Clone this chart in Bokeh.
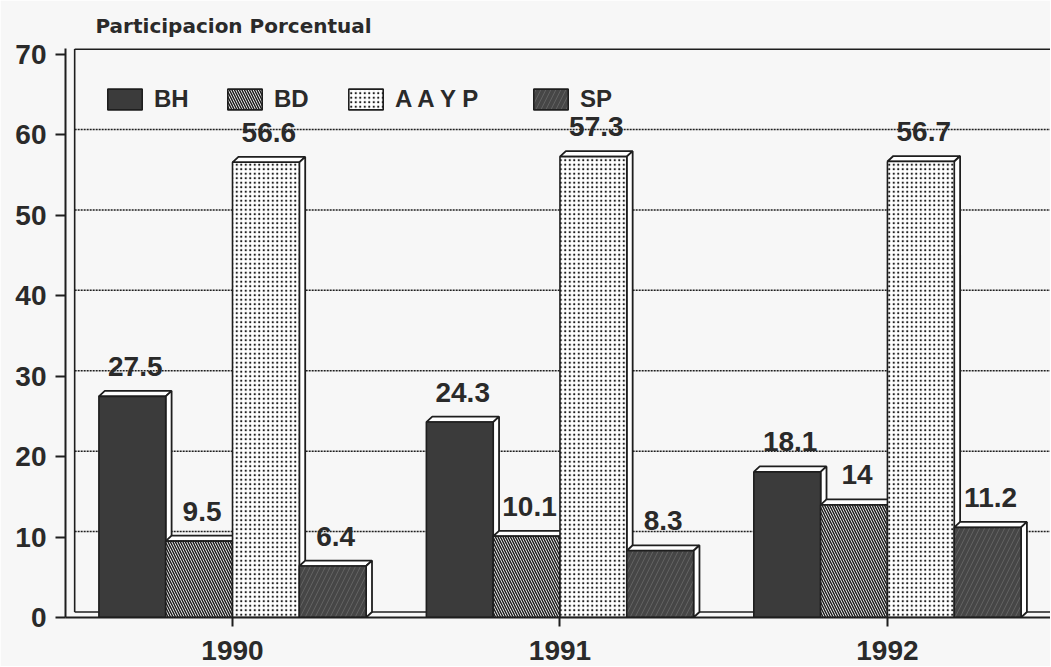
import numpy as np
from bokeh.plotting import figure
from bokeh.models import Range1d, FixedTicker, Legend, LegendItem
from bokeh.core.properties import value
from bokeh.embed import file_html
from bokeh.resources import INLINE

# ---------------- data ----------------
years = ["1990", "1991", "1992"]
series = ["BH", "BD", "A A Y P", "SP"]
bh = [27.5, 24.3, 18.1]
bd = [9.5, 10.1, 14.0]
aayp = [56.6, 57.3, 56.7]
sp = [6.4, 8.3, 11.2]
y_ticks = [0, 10, 20, 30, 40, 50, 60, 70]
title_text = "Participacion Porcentual"

values = [bh, bd, aayp, sp]

# ---------------- style ----------------
FONT = "Liberation Sans"
BG = "#f7f7f7"
INK = "#1e1e1e"
TXT = "#2a2a2a"
W = 0.204          # bar width (x units)
DX = 0.018         # 3D depth, x
DY = 0.68          # 3D depth, y
X0, X1 = 0.49, 3.498
offsets = [-1.5 * W, -0.5 * W, 0.5 * W, 1.5 * W]
styles = [
    dict(fill_color="#3b3b3b"),
    dict(fill_color="white", hatch_pattern="\\", hatch_color=INK, hatch_scale=5, hatch_weight=1.5),
    dict(fill_color="white", hatch_pattern=".", hatch_color=INK, hatch_scale=4.5, hatch_weight=2.4),
    dict(fill_color="#464646", hatch_pattern="/", hatch_color="#a0a0a0", hatch_alpha=0.3,
         hatch_scale=10, hatch_weight=1),
]
legend_x = [38, 158, 279, 464]

p = figure(width=1050, height=666, x_range=Range1d(X0, X1), y_range=Range1d(0, 70 + DY + 0.07),
           output_backend="svg", toolbar_location=None,
           min_border_left=65, min_border_right=0, min_border_top=46, min_border_bottom=49,
           background_fill_color=BG, border_fill_color=BG, outline_line_color=None)
p.grid.visible = False

# back wall grid lines (dotted) and top line
xl = X0 + 0.01 + DX
gy = [t + DY for t in y_ticks[1:-1]]
p.segment(x0=[xl] * len(gy), y0=gy, x1=[X1] * len(gy), y1=gy,
          line_color=INK, line_width=1.5, line_dash="2 1")
p.segment(x0=[xl], y0=[y_ticks[-1] + DY], x1=[X1], y1=[y_ticks[-1] + DY],
          line_color=INK, line_width=2)
# back wall left edge and back floor
p.segment(x0=[xl], y0=[DY], x1=[xl], y1=[y_ticks[-1] + DY], line_color=INK, line_width=1.6)
p.segment(x0=[xl], y0=[DY], x1=[X1], y1=[DY], line_color=INK, line_width=1.6)

front_renderers = []
for s, vals in enumerate(values):
    cx = np.arange(1, len(years) + 1) + offsets[s]
    h = np.array(vals)
    x0 = cx - W / 2
    x1 = cx + W / 2
    top_xs = [[a, b, b + DX, a + DX] for a, b in zip(x0, x1)]
    top_ys = [[v, v, v + DY, v + DY] for v in h]
    side_xs = [[b, b + DX, b + DX, b] for b in x1]
    side_ys = [[0, DY, v + DY, v] for v in h]
    p.patches(top_xs, top_ys, fill_color="white", line_color=INK, line_width=1.8)
    p.patches(side_xs, side_ys, fill_color="white", line_color=INK, line_width=1.8)
    r = p.vbar(x=cx, width=W, top=h, bottom=0, line_color=INK, line_width=1.6, **styles[s])
    front_renderers.append(r)
    p.text(x=cx + DX / 2, y=h, text=[f"{v:g}" for v in vals], text_align="center",
           text_baseline="alphabetic", y_offset=-30, text_font=value(FONT),
           text_font_style="bold", text_font_size="28px", text_color=TXT)

for s, r in enumerate(front_renderers):
    lg = Legend(items=[LegendItem(label=series[s], renderers=[r])], location=(legend_x[s], 504),
                padding=0, margin=0, spacing=0, border_line_color=None, background_fill_alpha=0,
                glyph_width=43, glyph_height=26, label_height=26, label_standoff=8,
                label_text_font=FONT, label_text_font_style="bold", label_text_font_size="24px",
                label_text_color=TXT)
    p.add_layout(lg)

# axes
p.xaxis.ticker = FixedTicker(ticks=list(range(1, len(years) + 1)))
p.xaxis.major_label_overrides = {i + 1: y for i, y in enumerate(years)}
p.yaxis.ticker = FixedTicker(ticks=y_ticks)
for ax in (p.xaxis, p.yaxis):
    ax.major_label_text_font = FONT
    ax.major_label_text_font_style = "bold"
    ax.major_label_text_font_size = "28px"
    ax.major_label_text_color = TXT
    ax.major_tick_in = 0
    ax.minor_tick_line_color = None
    ax.axis_line_width = 2
    ax.axis_line_color = INK
    ax.major_tick_line_width = 2
    ax.major_tick_line_color = INK
p.xaxis.major_tick_out = 9
p.xaxis.major_label_standoff = 14
p.yaxis.major_tick_out = 10
p.yaxis.major_label_standoff = 9

p.title.text = title_text
p.title.text_font = "DejaVu Sans"
p.title.text_font_style = "bold"
p.title.text_font_size = "20px"
p.title.text_color = TXT
p.title.align = "left"
p.title.offset = 30
p.title.standoff = 22

open("out.html", "w").write(file_html(p, INLINE))
